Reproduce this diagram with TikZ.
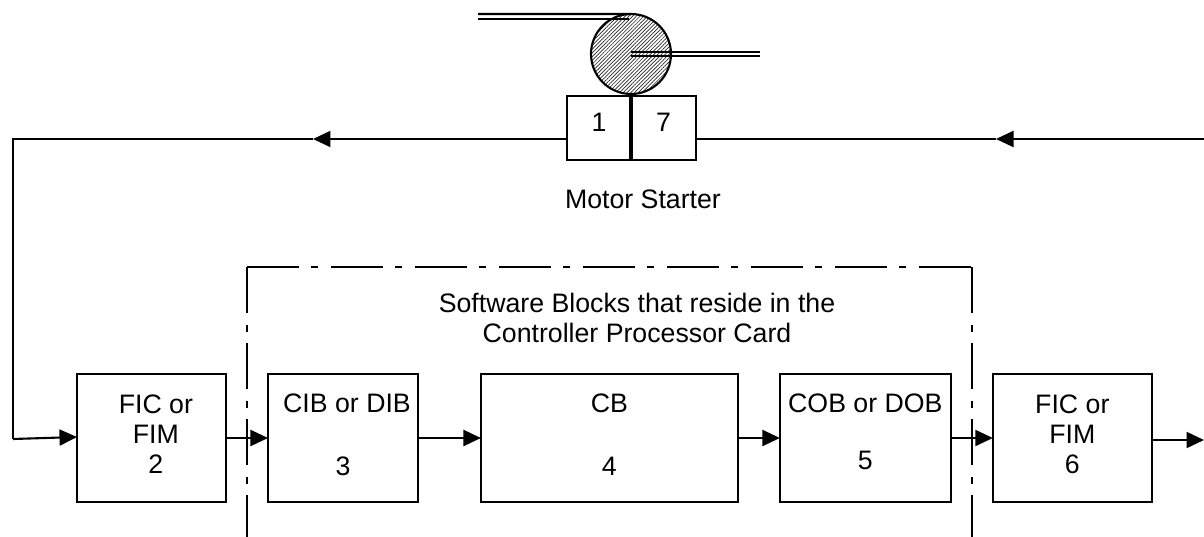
\documentclass[tikz,border=0pt]{standalone}
\usepackage{xcolor}
\usepackage{fontspec}
\setmainfont{Liberation Sans}
\usetikzlibrary{arrows.meta, positioning, patterns.meta}

\begin{document}
\begin{tikzpicture}[
			x=0.02cm, y=-0.02cm,
			block/.style={rectangle, draw, line width=1.2pt, outer sep=0pt, minimum height=2.56cm, align=center, font=\fontsize{15.2}{17}\selectfont, text depth=4pt},
			starter/.style={rectangle, draw, line width=1.2pt, outer sep=0pt, minimum height=1.28cm, font=\fontsize{15.2}{17}\selectfont, text depth=6pt},
			caption/.style={align=center, font=\fontsize{15.2}{17}\selectfont},
			arrow/.style={-{Triangle[length=3.5mm, width=3.2mm]}, line width=1.2pt},
			wire/.style={line width=1.2pt},
			boundaryh/.style={line width=1.2pt, dash pattern=on 29.6pt off 6.8pt on 4pt off 7.4pt},
			boundaryv/.style={line width=1.2pt, dash pattern=on 26.2pt off 6.8pt on 4pt off 6.3pt}
		]
		\useasboundingbox (0,0) rectangle (1204,537);
		% motor starter
		\node[starter, minimum width=1.28cm] (startone) at (599,128) {1};
		\node[starter, minimum width=1.3cm, right=0cm of startone] (startseven) {7};
		\draw[line width=1.8pt] (startone.north east) -- (startone.south east);
		\node[circle, draw, line width=1.2pt, outer sep=0pt, minimum size=1.6cm, inner sep=0pt, pattern={Lines[angle=45, distance=1.5pt, line width=0.38pt]}, pattern color=black!85] (motor) at (631,54) {};
		\node[caption] (startname) at (643,199) {Motor Starter};
		
		% belts
		\coordinate (beltin) at (478,14);
		\coordinate (beltinb) at (478,19);
		\coordinate (beltout) at (760,52);
		\coordinate (beltoutb) at (760,56);
		\draw[wire] (beltin) -- (motor.north);
		\draw[wire] (beltinb) -- (629,19);
		\draw[wire] (motor.center) ++(0,-2) -- (beltout);
		\draw[wire] (motor.center) ++(0,2) -- (beltoutb);
		
		% blocks
		\node[block, minimum width=2.98cm] (ficin) at (151.5,438) {\hspace*{5pt}FIC or\\\hspace*{5pt}FIM\\\hspace*{5pt}2};
		\node[block, minimum width=3cm, right=0.84cm of ficin] (cib) {\hspace*{4.6pt}CIB or DIB\\[19pt]3};
		\node[block, minimum width=5.14cm, right=1.26cm of cib] (cb) {CB\\[19pt]4};
		\node[block, minimum width=3.42cm, text depth=6.8pt, right=0.84cm of cb] (cob) {COB or DOB\\[15.4pt]5};
		\node[block, minimum width=3.18cm, right=0.84cm of cob] (ficout) {FIC or\\FIM\\6};
		\node[caption] (software) at (637,318) {Software Blocks that reside in the\\Controller Processor Card};
		
		% software boundary
		\coordinate (softleft) at (247,537);
		\coordinate (softtopl) at (247,267);
		\coordinate (softtopr) at (972,267);
		\coordinate (softright) at (972,537);
		\draw[boundaryh] (softtopl) -- (softtopr);
		\draw[boundaryv] (softtopl) -- (softleft);
		\draw[boundaryv] (softtopr) -- (softright);
		
		% signal path
		\coordinate (tipleft) at (313,139);
		\coordinate (tipright) at (996,139);
		\coordinate (cornertop) at (13,139);
		\coordinate (cornerbot) at (13,439);
		\coordinate (edgeright) at (1204,139);
		\coordinate (edgeout) at (1204,440);
		\draw[arrow] (startone.west |- tipleft) -- (tipleft);
		\draw[wire] (tipleft) -- (cornertop) -- (cornerbot);
		\draw[arrow] (cornerbot) -- (ficin.west |- 0,437);
		\draw[wire] (startseven.east |- tipright) -- (tipright);
		\draw[arrow] (edgeright) -- (tipright);
		\draw[arrow] (ficin) ++(74.5,0) -- (cib.west);
		\draw[arrow] (cib) -- (cb);
		\draw[arrow] (cb) -- (cob);
		\draw[arrow] (cob) ++(85.5,0) -- (ficout.west);
		\draw[arrow] (ficout.east |- edgeout) -- (edgeout);
		\end{tikzpicture}
\end{document}
